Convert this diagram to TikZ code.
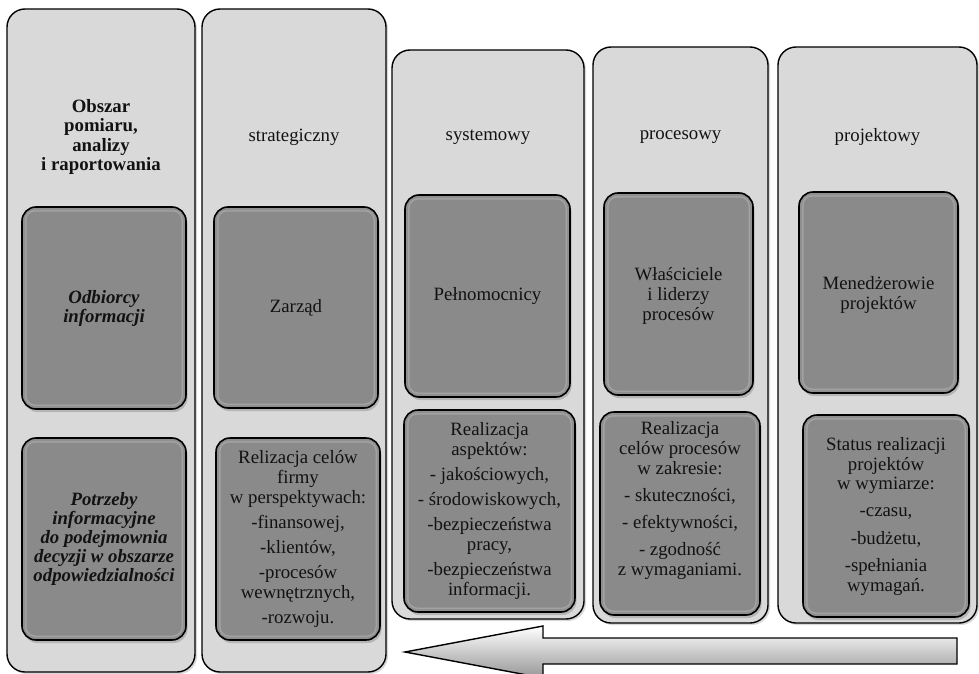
\documentclass[tikz,border=0pt]{standalone}
\usepackage{fontspec}
\setmainfont{Liberation Serif}
\usetikzlibrary{shadows}
\definecolor{colfill}{RGB}{217,217,217}
\definecolor{boxfill}{RGB}{138,138,138}
\definecolor{txtc}{RGB}{18,18,18}
\definecolor{arrowlow}{RGB}{150,150,150}
\tikzset{
 column/.style={draw=black, line width=1.4pt, fill=colfill, rounded corners=18pt,
   drop shadow={opacity=0.3, shadow xshift=2pt, shadow yshift=-2pt}},
 inbox/.style={draw=black, line width=1.6pt, fill=boxfill, rounded corners=14pt,
   drop shadow={opacity=0.4, shadow xshift=1.5pt, shadow yshift=-3pt},
   path picture={
     \draw[white, opacity=0.22, line width=7pt, rounded corners=12pt]
       ([xshift=1pt,yshift=-1pt]path picture bounding box.north west) rectangle
       ([xshift=-1pt,yshift=1pt]path picture bounding box.south east);
     \draw[black, opacity=0.12, line width=4pt, rounded corners=12pt]
       ([xshift=1pt,yshift=-1pt]path picture bounding box.north west) rectangle
       ([xshift=-1pt,yshift=1pt]path picture bounding box.south east);
   }},
 txt/.style={align=center, font=\fontsize{18.8}{20}\selectfont, inner sep=0pt, text=txtc},
 bigarrow/.style={draw=black, line width=1.4pt, top color=white, bottom color=arrowlow},
}
\begin{document}
\begin{tikzpicture}[x=1pt,y=-1pt]
\useasboundingbox (0,0) rectangle (979,674);
\clip (0,0) rectangle (979,674);
\fill[white] (0,0) rectangle (979,674);

% columns
\node[column, minimum width=188pt, minimum height=663pt] (c1) at (101,340.5) {};
\node[column, minimum width=184pt, minimum height=663pt] (c2) at (294,340.5) {};
\node[column, minimum width=192pt, minimum height=569pt] (c3) at (488,334.5) {};
\node[column, minimum width=175pt, minimum height=576pt] (c4) at (680.5,335) {};
\node[column, minimum width=199pt, minimum height=576pt] (c5) at (877.5,335) {};

% headers
\node[txt, font=\fontsize{18.8}{19.5}\selectfont\bfseries] (h1) at (101,137) {Obszar\\ pomiaru,\\ analizy\\ i raportowania};
\node[txt] (h2) at (294,137) {strategiczny};
\node[txt] (h3) at (488,137) {systemowy};
\node[txt] (h4) at (680.5,137) {procesowy};
\node[txt] (h5) at (877.5,137) {projektowy};

% upper boxes
\node[inbox, minimum width=164pt, minimum height=202pt] (b1a) at (104,308) {};
\node[txt, font=\fontsize{18.8}{19}\selectfont\bfseries\itshape] (t1a) at (b1a.center) {Odbiorcy\\ informacji};
\node[inbox, minimum width=164pt, minimum height=201pt] (b2a) at (296,307.5) {};
\node[txt] (t2a) at (b2a.center) {Zarząd};
\node[inbox, minimum width=165pt, minimum height=202pt] (b3a) at (487.5,296) {};
\node[txt] (t3a) at (b3a.center) {Pełnomocnicy};
\node[inbox, minimum width=149pt, minimum height=202pt] (b4a) at (678.5,294) {};
\node[txt] (t4a) at ([yshift=-2pt]b4a.center) {Właściciele\\ i liderzy\\ procesów};
\node[inbox, minimum width=159pt, minimum height=201pt] (b5a) at (878.5,292.5) {};
\node[txt] (t5a) at ([yshift=-2pt]b5a.center) {Menedżerowie\\ projektów};

% lower boxes
\node[inbox, minimum width=164pt, minimum height=202pt] (b1b) at (104,539) {};
\node[txt, font=\fontsize{18.8}{19}\selectfont\bfseries\itshape] (t1b) at (b1b.center) {Potrzeby\\ informacyjne\\ do podejmownia\\ decyzji w obszarze\\ odpowiedzialności};
\node[inbox, minimum width=164pt, minimum height=202pt] (b2b) at (298,539) {};
\node[txt] (t2b) at (b2b.center) {Relizacja celów\\ firmy\\ w perspektywach:\\[5pt] -finansowej,\\[5pt] -klientów,\\[5pt] -procesów\\ wewnętrznych,\\[5pt] -rozwoju.};
\node[inbox, minimum width=171pt, minimum height=202pt] (b3b) at (489.5,511) {};
\node[txt] (t3b) at (b3b.center) {Realizacja\\ aspektów:\\[5pt] - jakościowych,\\[5pt] - środowiskowych,\\[5pt] -bezpieczeństwa\\ pracy,\\[5pt] -bezpieczeństwa\\ informacji.};
\node[inbox, minimum width=160pt, minimum height=203pt] (b4b) at (680,513.5) {};
\node[txt] (t4b) at ([yshift=13pt]b4b.center) {Realizacja\\ celów procesów\\ w zakresie:\\[7pt] - skuteczności,\\[7pt] - efektywności,\\[7pt] - zgodność\\ z wymaganiami.};
\node[inbox, minimum width=166pt, minimum height=202pt] (b5b) at (886,516) {};
\node[txt] (t5b) at (b5b.center) {Status realizacji\\ projektów\\ w wymiarze:\\[7pt] -czasu,\\[7pt] -budżetu,\\[7pt] -spełniania\\ wymagań.};

% big arrow
\draw[bigarrow] (405,652) -- (543,626) -- (543,638) -- (957,638) -- (957,664) -- (543,664) -- (543,678) -- cycle;
\end{tikzpicture}
\end{document}
